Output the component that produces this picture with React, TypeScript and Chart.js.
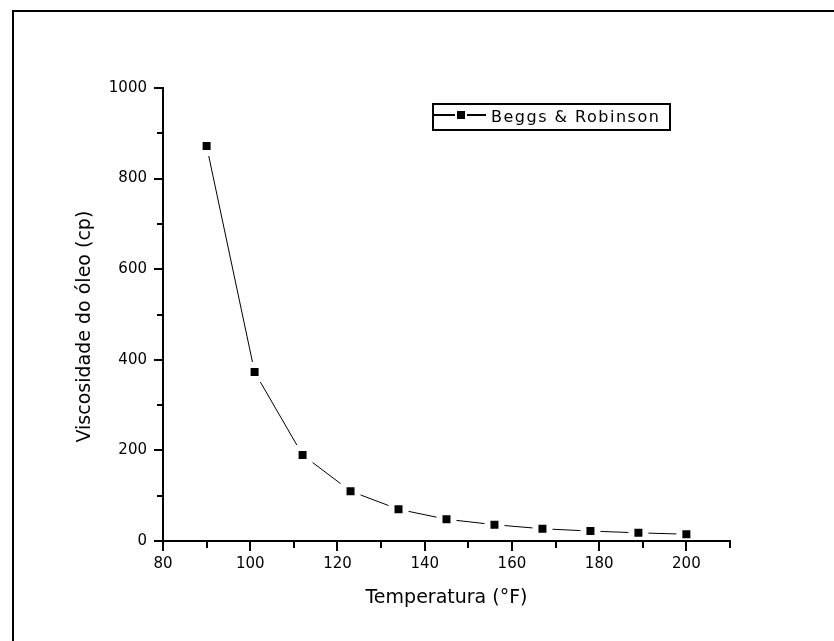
import React, { useEffect, useRef } from "react";
import { Chart, registerables } from "chart.js";

Chart.register(...registerables);

const temperatures = [90, 101, 112, 123, 134, 145, 156, 167, 178, 189, 200];
const viscosities = [872, 373, 190, 110, 70, 48, 36, 27, 22, 18, 15];
const seriesLabel = "Beggs & Robinson";
const xTitle = "Temperatura (°F)";
const yTitle = "Viscosidade do óleo (cp)";

const FONT = "'DejaVu Sans', sans-serif";

const framePlugin = {
  id: "frame",
  afterDraw(chart: any) {
    const ctx = chart.ctx;
    ctx.save();
    ctx.strokeStyle = "#000";
    ctx.lineWidth = 2;
    ctx.beginPath();
    ctx.moveTo(13, 700);
    ctx.lineTo(13, 11);
    ctx.lineTo(900, 11);
    ctx.stroke();
    ctx.restore();
  },
};

const ticksPlugin = {
  id: "customTicks",
  afterDraw(chart: any) {
    const ctx = chart.ctx;
    const xs = chart.scales.x;
    const ys = chart.scales.y;
    const area = chart.chartArea;
    ctx.save();
    ctx.strokeStyle = "#000";
    ctx.lineWidth = 2;
    ctx.beginPath();
    // axis lines redrawn on top of the markers' white borders
    ctx.moveTo(area.left, area.top);
    ctx.lineTo(area.left, area.bottom);
    ctx.moveTo(area.left - 1, area.bottom);
    ctx.lineTo(area.right, area.bottom);
    xs.ticks.forEach((t: any) => {
      const px = Math.round(xs.getPixelForValue(t.value));
      const major = t.value % 20 === 0;
      ctx.moveTo(px, area.bottom);
      ctx.lineTo(px, area.bottom + (major ? 10 : 7));
    });
    ys.ticks.forEach((t: any) => {
      const py = Math.round(ys.getPixelForValue(t.value));
      const major = t.value % 200 === 0;
      ctx.moveTo(area.left, py);
      ctx.lineTo(area.left - (major ? 9 : 6), py);
    });
    ctx.stroke();
    ctx.restore();
  },
};

const legendPlugin = {
  id: "boxLegend",
  afterDraw(chart: any) {
    const ctx = chart.ctx;
    const area = chart.chartArea;
    const left = area.left + 270;
    const top = area.top + 16;
    const w = 237;
    const h = 26;
    ctx.save();
    ctx.strokeStyle = "#000";
    ctx.lineWidth = 2;
    ctx.strokeRect(left, top, w, h);
    const cy = top + 11;
    ctx.beginPath();
    ctx.moveTo(left + 1, cy);
    ctx.lineTo(left + 22, cy);
    ctx.moveTo(left + 34, cy);
    ctx.lineTo(left + 53, cy);
    ctx.stroke();
    ctx.fillStyle = "#000";
    ctx.fillRect(left + 24, cy - 4, 8, 8);
    ctx.font = `16px ${FONT}`;
    try {
      (ctx as any).letterSpacing = "1.5px";
    } catch (e) {}
    ctx.textBaseline = "alphabetic";
    ctx.textAlign = "left";
    ctx.fillText(chart.data.datasets[0].label, left + 58, top + 18);
    ctx.restore();
  },
};

export default function App() {
  const canvasRef = useRef<HTMLCanvasElement | null>(null);

  useEffect(() => {
    document.body.style.margin = "0";
    const canvas = canvasRef.current;
    if (!canvas) return;
    const points = temperatures.map((t, i) => ({ x: t, y: viscosities[i] }));
    const chart = new Chart(canvas, {
      type: "line",
      data: {
        datasets: [
          {
            label: seriesLabel,
            data: points,
            borderColor: "#000",
            borderWidth: 1,
            tension: 0,
            pointStyle: "rect",
            pointRadius: 9.9,
            pointBackgroundColor: "#000",
            pointBorderColor: "#fff",
            pointBorderWidth: 6,
            fill: false,
            clip: false as any,
          },
        ],
      },
      options: {
        animation: false,
        responsive: false,
        events: [],
        layout: { padding: { left: 0, top: 88, right: 104, bottom: 0 } },
        plugins: {
          legend: { display: false },
          tooltip: { enabled: false },
        },
        scales: {
          x: {
            type: "linear",
            min: 80,
            max: 210,
            afterFit: (s: any) => {
              s.height = 100;
            },
            grid: {
              drawOnChartArea: false,
              drawTicks: true,
              tickLength: 8,
              tickColor: "rgba(0,0,0,0)",
            },
            border: { display: true, color: "#000", width: 2 },
            ticks: {
              stepSize: 10,
              autoSkip: false,
              maxRotation: 0,
              padding: 6,
              color: "#000",
              font: { family: FONT, size: 15 },
              callback: (v: any) => (v % 20 === 0 && v <= 200 ? String(v) : ""),
            },
            title: {
              display: true,
              text: xTitle,
              color: "#000",
              font: { family: FONT, size: 19 },
              padding: { top: 0, bottom: 32 },
            },
          },
          y: {
            type: "linear",
            min: 0,
            max: 1000,
            afterFit: (s: any) => {
              s.width = 163;
            },
            grid: {
              drawOnChartArea: false,
              drawTicks: true,
              tickLength: 8,
              tickColor: "rgba(0,0,0,0)",
            },
            border: { display: true, color: "#000", width: 2 },
            ticks: {
              stepSize: 100,
              autoSkip: false,
              padding: 8,
              color: "#000",
              font: { family: FONT, size: 15 },
              callback: (v: any) => (v % 200 === 0 ? String(v) : ""),
            },
            title: {
              display: true,
              text: yTitle + "    ",
              color: "#000",
              font: { family: FONT, size: 19 },
              padding: { top: 74, bottom: 0 },
            },
          },
        },
      },
      plugins: [framePlugin, ticksPlugin, legendPlugin],
    });
    return () => chart.destroy();
  }, []);

  return (
    <div style={{ width: 834, height: 641, background: "#fff" }}>
      <canvas ref={canvasRef} width={834} height={641} style={{ display: "block" }} />
    </div>
  );
}
